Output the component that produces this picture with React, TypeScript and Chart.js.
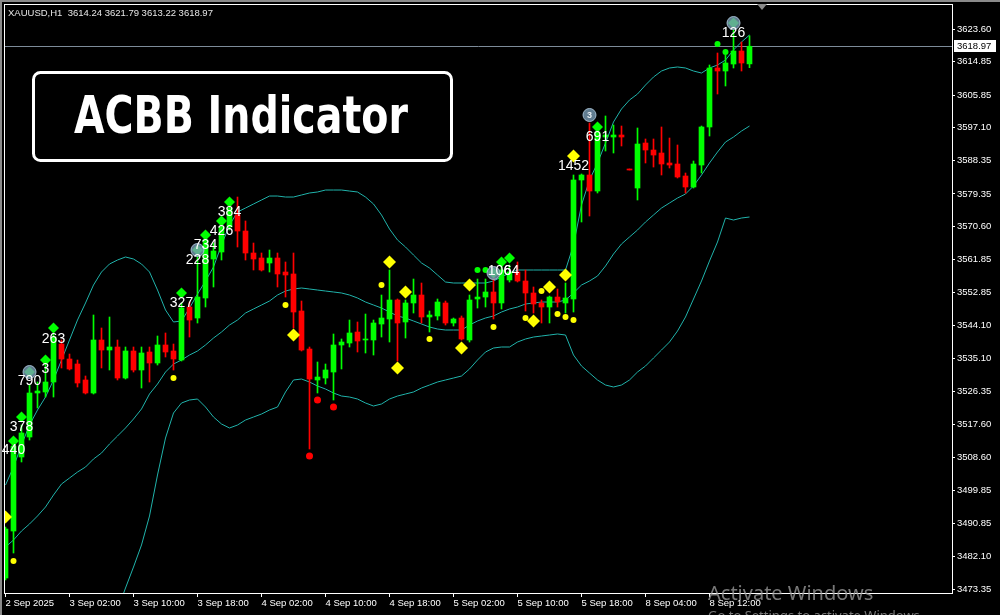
import React, { useEffect, useRef } from "react";
import { Chart, registerables } from "chart.js";
Chart.register(...registerables);

const FONT = "'Liberation Sans', Arial, sans-serif";

// ---- candles (index = hourly bar number) ----
const open = [
  3476.30, 3488.91, 3508.77, 3514.13, 3525.94, 3526.21, 3528.89, 3539.08, 3535.06, 3533.72,
  3529.43, 3525.94, 3540.16, 3537.47, 3538.28, 3529.96, 3537.21, 3532.11, 3536.94, 3533.99,
  3538.82, 3537.21, 3534.79, 3549.01, 3546.06, 3551.43, 3561.89, 3563.77, 3570.48, 3573.70,
  3569.40, 3563.50, 3562.16, 3560.82, 3562.16, 3558.40, 3557.87, 3547.94, 3537.74, 3529.43,
  3529.96, 3531.57, 3538.82, 3539.35, 3542.30, 3540.16, 3540.16, 3544.45, 3545.79, 3550.89,
  3544.99, 3550.09, 3552.23, 3546.33, 3546.60, 3550.09, 3544.72, 3546.06, 3540.16, 3551.16,
  3551.69, 3553.04, 3550.09, 3556.26, 3558.40, 3555.99, 3552.77, 3550.09, 3549.01, 3551.69,
  3550.09, 3551.16, 3583.09, 3584.43, 3580.13, 3594.62, 3594.62, 3595.16, 3586.04, 3580.94,
  3593.01, 3591.13, 3590.33, 3587.65, 3587.38, 3584.16, 3581.21, 3587.11, 3597.31, 3613.14,
  3612.33, 3614.21, 3617.70, 3614.24,
];
const high = [
  3489.99, 3512.25, 3517.35, 3528.08, 3528.89, 3533.45, 3542.04, 3540.16, 3536.40, 3534.79,
  3530.50, 3546.87, 3543.38, 3546.33, 3540.16, 3538.28, 3538.28, 3538.28, 3538.28, 3541.23,
  3542.04, 3539.08, 3550.09, 3550.35, 3562.96, 3568.06, 3566.18, 3571.82, 3576.65, 3578.52,
  3572.09, 3566.18, 3563.50, 3564.30, 3563.50, 3561.09, 3563.50, 3550.62, 3538.28, 3534.26,
  3533.72, 3541.77, 3540.43, 3545.52, 3544.99, 3547.13, 3545.52, 3552.23, 3558.94, 3551.16,
  3550.89, 3556.52, 3555.45, 3547.94, 3551.16, 3550.62, 3546.06, 3546.60, 3552.23, 3556.52,
  3556.52, 3558.13, 3560.28, 3560.28, 3561.09, 3558.94, 3554.38, 3550.89, 3551.96, 3553.84,
  3555.45, 3584.43, 3584.70, 3598.38, 3597.04, 3600.26, 3597.84, 3597.57, 3586.04, 3597.04,
  3594.09, 3594.09, 3597.31, 3594.35, 3592.48, 3584.96, 3588.18, 3597.57, 3613.94, 3617.16,
  3616.62, 3623.33, 3620.11, 3621.79,
];
const low = [
  3475.77, 3483.01, 3507.43, 3513.33, 3521.91, 3524.86, 3524.86, 3532.65, 3532.11, 3527.55,
  3525.67, 3525.67, 3532.65, 3532.11, 3529.43, 3529.69, 3531.57, 3527.28, 3528.89, 3533.45,
  3535.60, 3532.11, 3534.52, 3540.96, 3544.72, 3549.01, 3554.38, 3561.62, 3569.67, 3565.11,
  3561.62, 3558.94, 3558.67, 3558.40, 3554.38, 3551.69, 3543.38, 3537.21, 3510.91, 3525.94,
  3528.35, 3524.06, 3532.38, 3538.28, 3536.94, 3536.67, 3536.13, 3540.96, 3539.62, 3534.52,
  3540.69, 3547.40, 3544.72, 3542.30, 3545.52, 3544.18, 3543.91, 3540.16, 3539.62, 3548.74,
  3549.01, 3545.79, 3548.48, 3555.72, 3555.72, 3547.94, 3547.40, 3544.72, 3544.72, 3549.01,
  3547.40, 3547.67, 3571.82, 3573.43, 3579.60, 3590.87, 3590.33, 3592.21, 3585.77, 3577.72,
  3587.65, 3586.57, 3584.43, 3586.31, 3583.62, 3579.60, 3580.94, 3584.96, 3594.89, 3606.16,
  3608.31, 3613.14, 3612.33, 3613.22,
];
const close = [
  3489.45, 3511.72, 3515.21, 3525.94, 3526.47, 3528.89, 3540.96, 3535.06, 3532.38, 3528.62,
  3525.94, 3540.16, 3537.47, 3538.28, 3529.96, 3537.21, 3532.11, 3536.67, 3533.99, 3538.82,
  3536.94, 3535.06, 3548.74, 3545.52, 3551.69, 3566.99, 3564.04, 3570.48, 3575.57, 3569.40,
  3563.50, 3561.89, 3558.94, 3562.16, 3557.87, 3557.60, 3547.67, 3537.47, 3529.69, 3530.23,
  3532.11, 3538.82, 3539.62, 3542.04, 3539.89, 3540.43, 3544.72, 3546.06, 3550.89, 3544.72,
  3550.09, 3552.23, 3546.33, 3546.87, 3550.35, 3544.72, 3545.79, 3540.43, 3550.89, 3551.69,
  3553.04, 3550.09, 3558.94, 3558.40, 3555.99, 3552.77, 3549.82, 3549.01, 3551.69, 3550.35,
  3551.43, 3583.09, 3584.43, 3580.13, 3595.96, 3595.16, 3595.16, 3594.62, 3585.77, 3592.74,
  3591.13, 3589.79, 3587.38, 3587.11, 3583.89, 3581.21, 3587.38, 3597.31, 3613.14, 3612.33,
  3614.48, 3617.70, 3614.48, 3618.97,
];

// ---- Bollinger bands ----
const bandUpper = [
  3501.25, 3506.08, 3511.99, 3517.35, 3521.38, 3524.86, 3529.43, 3534.79, 3540.16, 3545.52,
  3550.09, 3554.91, 3558.40, 3560.55, 3561.62, 3562.43, 3561.89, 3560.55, 3558.40, 3553.57,
  3548.21, 3544.99, 3545.26, 3548.74, 3552.50, 3555.99, 3559.74, 3565.65, 3571.01, 3574.50,
  3575.57, 3576.65, 3577.72, 3578.79, 3578.79, 3578.52, 3578.52, 3579.06, 3579.60, 3579.87,
  3580.40, 3580.40, 3580.40, 3580.13, 3579.87, 3578.52, 3576.65, 3573.70, 3569.94, 3566.99,
  3565.11, 3562.96, 3560.82, 3559.48, 3557.60, 3555.72, 3555.45, 3555.45, 3555.45, 3555.45,
  3555.45, 3555.99, 3557.06, 3558.13, 3558.94, 3558.94, 3558.94, 3558.94, 3558.94, 3558.94,
  3558.94, 3565.65, 3576.38, 3583.09, 3587.65, 3593.01, 3598.65, 3602.14, 3604.55, 3606.16,
  3608.57, 3610.72, 3612.33, 3613.14, 3613.41, 3613.14, 3612.33, 3611.79, 3613.14, 3613.94,
  3615.28, 3617.97, 3620.11, 3621.99,
];
const bandMiddle = [
  3484.62, 3486.50, 3488.91, 3490.79, 3492.94, 3495.35, 3498.57, 3501.52, 3503.13, 3504.74,
  3506.08, 3508.23, 3509.84, 3512.26, 3514.40, 3516.55, 3518.96, 3521.65, 3525.67, 3528.35,
  3531.57, 3533.72, 3534.79, 3536.13, 3537.21, 3538.82, 3540.69, 3542.30, 3544.18, 3545.52,
  3547.40, 3548.48, 3549.55, 3550.62, 3552.23, 3553.30, 3553.84, 3554.11, 3553.84, 3553.57,
  3553.30, 3553.04, 3552.77, 3552.23, 3551.43, 3550.35, 3549.55, 3548.74, 3547.67, 3546.60,
  3546.06, 3545.26, 3544.45, 3543.64, 3543.11, 3542.84, 3542.84, 3542.84, 3544.18, 3545.26,
  3546.06, 3546.60, 3547.67, 3548.48, 3549.01, 3549.82, 3550.09, 3550.35, 3550.35, 3550.35,
  3550.89, 3552.77, 3554.91, 3555.99, 3557.33, 3560.01, 3563.23, 3565.92, 3567.80, 3569.67,
  3571.82, 3573.70, 3575.57, 3576.92, 3578.25, 3579.33, 3581.48, 3584.43, 3587.65, 3590.60,
  3593.28, 3594.62, 3596.23, 3597.57,
];
const bandLower = [
  3467.99, 3466.91, 3465.84, 3464.23, 3464.50, 3465.84, 3467.72, 3468.25, 3466.11, 3463.96,
  3462.09, 3461.55, 3461.28, 3463.96, 3467.72, 3473.62, 3479.25, 3485.16, 3492.94, 3503.94,
  3513.86, 3520.57, 3523.26, 3524.06, 3524.33, 3522.18, 3519.50, 3517.62, 3516.55, 3517.35,
  3518.69, 3519.50, 3520.30, 3521.38, 3522.18, 3526.21, 3529.43, 3529.69, 3528.89, 3527.81,
  3527.01, 3525.94, 3525.13, 3524.86, 3524.33, 3523.26, 3522.45, 3522.99, 3524.33, 3525.13,
  3525.67, 3526.21, 3527.28, 3528.08, 3528.89, 3529.43, 3529.96, 3530.50, 3532.38, 3534.79,
  3536.94, 3538.01, 3538.28, 3538.28, 3539.62, 3540.43, 3540.96, 3541.23, 3541.50, 3541.77,
  3541.50, 3536.13, 3533.18, 3531.30, 3529.43, 3528.08, 3527.55, 3528.08, 3529.43, 3531.57,
  3533.18, 3535.33, 3537.47, 3539.62, 3542.57, 3546.33, 3551.16, 3555.99, 3561.36, 3566.45,
  3572.89, 3572.35, 3572.89, 3573.16,
];

// ---- signal markers ----
const greenDiamondIdx = [1, 2, 3, 5, 6, 22, 24, 25, 27, 28, 61, 62, 63, 74, 91];
const greenDiamondPrice = [3513.06, 3519.50, 3531.57, 3534.79, 3543.38, 3552.77, 3564.30, 3568.33, 3572.09, 3577.18, 3558.13, 3561.09, 3562.16, 3597.31, 3625.21];
const yellowDiamondIdx = [0, 36, 48, 49, 50, 57, 58, 66, 68, 70, 71];
const yellowDiamondPrice = [3492.67, 3541.50, 3561.09, 3532.65, 3553.04, 3538.01, 3554.91, 3545.26, 3554.38, 3557.60, 3589.53];
const yellowDotIdx = [1, 21, 35, 47, 53, 61, 65, 67, 69, 70, 71];
const yellowDotPrice = [3480.87, 3529.96, 3549.55, 3554.91, 3540.43, 3543.64, 3546.06, 3553.30, 3547.13, 3546.33, 3545.52];
const greenDotIdx = [59, 60, 89, 90];
const greenDotPrice = [3558.94, 3558.94, 3619.57, 3617.43];
const redDotIdx = [38, 39, 41];
const redDotPrice = [3509.03, 3524.06, 3522.18];
const circleIdx = [3, 24, 61, 73, 91];
const circlePrice = [3531.57, 3564.30, 3558.13, 3600.53, 3625.21];

const labelIdx = [1, 2, 3, 5, 6, 22, 24, 25, 27, 28, 61.75, 63.25, 71, 74, 91];
const labelPrice = [3510.64, 3516.82, 3529.16, 3532.38, 3540.43, 3550.09, 3561.62, 3565.65, 3569.40, 3574.50, 3558.67, 3558.67, 3586.84, 3594.62, 3622.53];
const labelText = ["440", "378", "790", "3", "263", "327", "228", "734", "426", "384", "106", "64", "1452", "691", "126"];

// ---- axes ----
const xTickIdx = [0, 8, 16, 24, 32, 40, 48, 56, 64, 72, 80, 88];
const xTickLabels = ["2 Sep 2025", "3 Sep 02:00", "3 Sep 10:00", "3 Sep 18:00", "4 Sep 02:00", "4 Sep 10:00", "4 Sep 18:00", "5 Sep 02:00", "5 Sep 10:00", "5 Sep 18:00", "8 Sep 04:00", "8 Sep 12:00"];
const yTicks = [3623.60, 3614.85, 3605.85, 3597.10, 3588.35, 3579.35, 3570.60, 3561.85, 3552.85, 3544.10, 3535.10, 3526.35, 3517.60, 3508.60, 3499.85, 3490.85, 3482.10, 3473.35];
const yMin = 3472.28;
const yMax = 3630.04;
const xMin = -0.0625;
const xMax = 118.3125;

const symbolText = "XAUUSD,H1  3614.24 3621.79 3613.22 3618.97";
const lastPrice = 3618.97;
const titleText = "ACBB Indicator";

const overlay = {
  id: "overlay",
  beforeDraw(chart: any) {
    const { ctx, width, height } = chart;
    ctx.save();
    ctx.fillStyle = "#000";
    ctx.fillRect(0, 0, width, height);
    ctx.restore();
  },
  beforeDatasetsDraw(chart: any) {
    const { ctx, chartArea: a, scales } = chart;
    const y = Math.round(scales.y.getPixelForValue(lastPrice)) + 0.5;
    ctx.save();
    ctx.strokeStyle = "#7d8b99";
    ctx.lineWidth = 1;
    ctx.beginPath();
    ctx.moveTo(a.left, y);
    ctx.lineTo(a.right, y);
    ctx.stroke();
    ctx.restore();
  },
  afterDraw(chart: any) {
    const { ctx, chartArea: a, scales, width, height } = chart;
    const xs = scales.x;
    const ys = scales.y;
    ctx.save();
    // plot frame
    ctx.strokeStyle = "#ffffff";
    ctx.lineWidth = 1;
    ctx.strokeRect(a.left - 0.5, a.top - 0.5, a.right - a.left + 1, a.bottom - a.top + 1);
    // window frame
    ctx.fillStyle = "#8a8a8a";
    ctx.fillRect(0, 0, width, 2);
    ctx.fillRect(0, 0, 2, height);
    // shift marker
    ctx.fillStyle = "#8a8a8a";
    ctx.beginPath();
    ctx.moveTo(757, a.top - 1);
    ctx.lineTo(767, a.top - 1);
    ctx.lineTo(762, a.top + 5);
    ctx.closePath();
    ctx.fill();

    // number labels
    ctx.font = `14px ${FONT}`;
    ctx.textAlign = "center";
    ctx.textBaseline = "middle";
    ctx.fillStyle = "#ffffff";
    labelIdx.forEach((k, j) => {
      ctx.fillText(labelText[j], xs.getPixelForValue(k), ys.getPixelForValue(labelPrice[j]));
    });
    // small number inside a circle
    ctx.font = `bold 9px ${FONT}`;
    ctx.fillStyle = "#e8eef2";
    ctx.fillText("3", xs.getPixelForValue(73), ys.getPixelForValue(circlePrice[3]) + 0.5);

    // symbol line
    ctx.font = `9.5px ${FONT}`;
    ctx.textAlign = "left";
    ctx.textBaseline = "alphabetic";
    ctx.fillStyle = "#e6e6e6";
    ctx.fillText(symbolText, 8, 16);

    // title box
    ctx.strokeStyle = "#ffffff";
    ctx.lineWidth = 3;
    ctx.beginPath();
    (ctx as any).roundRect(33.5, 72.5, 418, 88, 7);
    ctx.fillStyle = "#000";
    ctx.fill();
    ctx.stroke();
    ctx.font = `bold 52px 'DejaVu Sans Condensed', 'DejaVu Sans', sans-serif`;
    const w = ctx.measureText(titleText).width;
    ctx.translate(74, 133);
    ctx.scale(334 / w, 1);
    ctx.fillStyle = "#ffffff";
    ctx.fillText(titleText, 0, 0);
    ctx.setTransform(1, 0, 0, 1, 0, 0);

    // current price tag
    const py = Math.round(ys.getPixelForValue(lastPrice));
    ctx.fillStyle = "#ffffff";
    ctx.fillRect(954, py - 6, 42, 12);
    ctx.fillStyle = "#000000";
    ctx.font = `9.5px ${FONT}`;
    ctx.textBaseline = "middle";
    ctx.fillText(lastPrice.toFixed(2), 957, py + 0.5);

    // OS watermark
    ctx.fillStyle = "rgba(160,160,160,0.75)";
    ctx.font = `20px 'Noto Sans', 'Open Sans', sans-serif`;
    ctx.textBaseline = "alphabetic";
    ctx.fillText("Activate Windows", 708, 600);
    ctx.font = `13px 'Noto Sans', 'Open Sans', sans-serif`;
    ctx.fillText("Go to Settings to activate Windows.", 708, 620);
    ctx.restore();
  },
};

export default function App() {
  const ref = useRef<HTMLCanvasElement>(null);
  useEffect(() => {
    document.body.style.margin = "0";
    document.body.style.background = "#000";
    const canvas = ref.current;
    if (!canvas) return;
    const idx = open.map((_, i) => i);
    const colors = idx.map((i) => (close[i] >= open[i] ? "#00ff00" : "#ff0000"));
    const pts = (ix: number[], pr: number[]) => ix.map((x, j) => ({ x, y: pr[j] }));
    const band = (vals: number[]) => ({
      type: "line" as const,
      data: pts(idx, vals),
      borderColor: "#20b2aa",
      borderWidth: 1,
      pointRadius: 0,
      tension: 0,
      order: 10,
    });
    const marker = (ix: number[], pr: number[], style: string, r: number, color: string, order: number, border = "rgba(0,0,0,0)") => ({
      type: "line" as const,
      data: pts(ix, pr),
      showLine: false,
      pointStyle: style,
      pointRadius: r,
      pointBackgroundColor: color,
      pointBorderColor: border,
      pointBorderWidth: border === "rgba(0,0,0,0)" ? 0 : 1,
      order,
    });
    const font = { family: FONT, size: 9.5 };
    const chart = new Chart(canvas, {
      type: "bar",
      data: {
        datasets: [
          band(bandUpper) as any,
          band(bandMiddle),
          band(bandLower),
          {
            type: "bar",
            data: idx.map((i) => ({ x: i, y: [low[i], high[i]] })),
            backgroundColor: colors,
            barThickness: 1,
            grouped: false,
            borderWidth: 0,
            order: 9,
          },
          {
            type: "bar",
            data: idx.map((i) => ({ x: i, y: [Math.min(open[i], close[i]), Math.max(open[i], close[i])] })),
            backgroundColor: colors,
            barThickness: 5,
            grouped: false,
            borderWidth: 0,
            minBarLength: 1,
            order: 8,
          },
          marker(yellowDotIdx, yellowDotPrice, "circle", 3, "#ffff00", 5),
          marker(redDotIdx, redDotPrice, "circle", 3.5, "#ff0000", 5),
          marker(greenDotIdx, greenDotPrice, "circle", 3, "#00ff00", 5),
          marker(yellowDiamondIdx, yellowDiamondPrice, "rectRot", 6.5, "#ffff00", 4),
          marker(greenDiamondIdx, greenDiamondPrice, "rectRot", 5.5, "#00ff00", 4),
          marker(circleIdx, circlePrice, "circle", 6.5, "rgba(120,155,180,0.8)", 2, "rgba(170,195,215,0.9)"),
        ],
      },
      options: {
        responsive: false,
        animation: false,
        devicePixelRatio: 1,
        events: [],
        layout: { autoPadding: false, padding: { left: 5, top: 5, right: 0, bottom: 0 } },
        plugins: { legend: { display: false }, tooltip: { enabled: false } },
        scales: {
          x: {
            type: "linear",
            min: xMin,
            max: xMax,
            offset: false,
            grid: { display: true, drawOnChartArea: false, drawTicks: true, tickLength: 4, color: "#ffffff", offset: false },
            border: { display: false },
            ticks: {
              autoSkip: false,
              maxRotation: 0,
              minRotation: 0,
              align: "start",
              padding: 1,
              color: "#ffffff",
              font,
              callback: (v: any) => {
                const j = xTickIdx.indexOf(Number(v));
                return j >= 0 ? xTickLabels[j] : "";
              },
            },
            afterBuildTicks: (s: any) => {
              s.ticks = xTickIdx.map((v) => ({ value: v }));
            },
            afterFit: (s: any) => {
              s.height = 22;
              s.paddingLeft = 0;
              s.paddingRight = 0;
            },
          },
          y: {
            type: "linear",
            position: "right",
            min: yMin,
            max: yMax,
            grid: { display: true, drawOnChartArea: false, drawTicks: true, tickLength: 3, color: "#ffffff" },
            border: { display: false },
            ticks: {
              autoSkip: false,
              padding: 2,
              color: "#ffffff",
              font,
              callback: (v: any) => Number(v).toFixed(2),
            },
            afterBuildTicks: (s: any) => {
              s.ticks = yTicks.map((v) => ({ value: v }));
            },
            afterFit: (s: any) => {
              s.width = 48;
              s.paddingTop = 0;
              s.paddingBottom = 0;
            },
          },
        },
      } as any,
      plugins: [overlay],
    });
    return () => chart.destroy();
  }, []);
  return (
    <div style={{ width: 1000, height: 615, background: "#000" }}>
      <canvas ref={ref} width={1000} height={615} style={{ display: "block" }} />
    </div>
  );
}
